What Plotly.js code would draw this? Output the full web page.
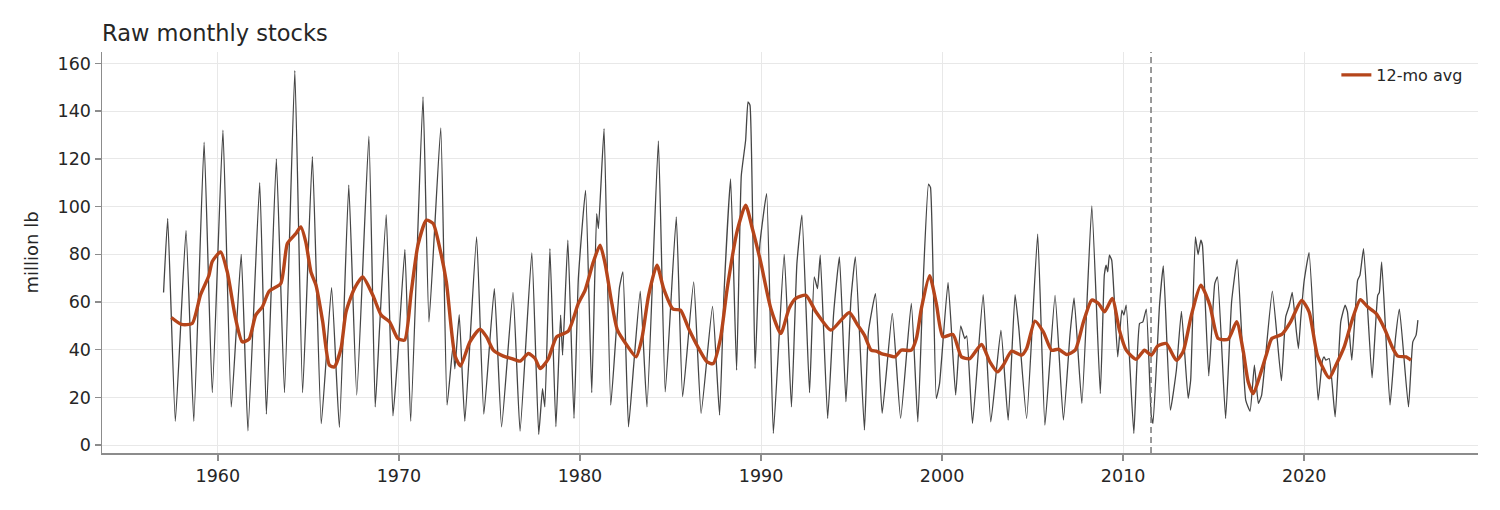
<!DOCTYPE html>
<html>
<head>
<meta charset="utf-8">
<script src="https://cdn.plot.ly/plotly-3.0.1.min.js"></script>
<style>
  html, body { margin: 0; padding: 0; background: #fff; }
  #chart { width: 1500px; height: 510px; }
</style>
</head>
<body>
<div id="chart"></div>
<script>
// raw monthly stocks (decimal year, million lb)
var rawYear = [
  1957.00, 1957.23, 1957.65, 1958.24, 1958.67, 1959.24, 1959.69, 1960.28, 1960.74, 1961.29,
  1961.66, 1962.31, 1962.68, 1963.23, 1963.68, 1964.25, 1964.68, 1965.22, 1965.71, 1966.28,
  1966.71, 1967.23, 1967.67, 1968.34, 1968.69, 1968.93, 1969.30, 1969.67, 1969.94, 1970.33,
  1970.65, 1971.33, 1971.66, 1972.31, 1972.66, 1972.99, 1973.09, 1973.33, 1973.64, 1974.29,
  1974.69, 1975.27, 1975.67, 1976.30, 1976.69, 1977.34, 1977.72, 1977.93, 1978.06, 1978.34,
  1978.67, 1978.93, 1979.04, 1979.33, 1979.67, 1979.91, 1980.31, 1980.65, 1980.92, 1981.02,
  1981.33, 1981.70, 1982.18, 1982.37, 1982.68, 1982.96, 1983.33, 1983.70, 1984.33, 1984.71,
  1985.32, 1985.67, 1986.28, 1986.69, 1987.32, 1987.71, 1987.95, 1988.32, 1988.65, 1988.91,
  1989.15, 1989.28, 1989.39, 1989.67, 1989.94, 1990.31, 1990.68, 1991.28, 1991.68, 1991.98,
  1992.26, 1992.68, 1992.94, 1993.12, 1993.27, 1993.68, 1994.01, 1994.33, 1994.69, 1994.97,
  1995.21, 1995.71, 1995.93, 1996.32, 1996.69, 1997.25, 1997.71, 1998.30, 1998.66, 1998.94,
  1999.25, 1999.36, 1999.68, 1999.86, 2000.33, 2000.75, 2001.03, 2001.25, 2001.36, 2001.68,
  2002.27, 2002.69, 2003.25, 2003.65, 2004.03, 2004.24, 2004.67, 2005.28, 2005.68, 2006.24,
  2006.70, 2007.07, 2007.29, 2007.72, 2008.27, 2008.74, 2008.96, 2009.06, 2009.15, 2009.24,
  2009.37, 2009.70, 2009.93, 2010.04, 2010.17, 2010.59, 2010.91, 2011.09, 2011.28, 2011.55,
  2011.65, 2012.01, 2012.22, 2012.61, 2012.94, 2013.22, 2013.59, 2013.73, 2013.99, 2014.14,
  2014.29, 2014.38, 2014.73, 2015.06, 2015.21, 2015.66, 2015.99, 2016.30, 2016.77, 2017.01,
  2017.25, 2017.47, 2017.65, 2018.24, 2018.74, 2018.98, 2019.16, 2019.34, 2019.57, 2019.68,
  2019.81, 2019.99, 2020.27, 2020.77, 2021.01, 2021.10, 2021.19, 2021.38, 2021.71, 2022.02,
  2022.26, 2022.39, 2022.63, 2022.95, 2023.08, 2023.28, 2023.75, 2024.06, 2024.15, 2024.28,
  2024.74, 2025.04, 2025.26, 2025.76, 2026.00, 2026.18, 2026.28
];
var rawStocks = [
  64, 95, 10, 90, 10, 127, 22, 132, 16, 80,
  6, 110, 13, 120, 22, 157, 22, 121, 9, 66,
  7.5, 109, 21, 129.5, 16, 49, 96.6, 12.3, 38, 82,
  10, 146, 51.7, 133, 16.8, 42, 32, 54.7, 10, 87.3,
  13, 65.6, 7.7, 64, 5.9, 80.6, 4.5, 23.7, 16, 82.4,
  7.7, 54.5, 37.7, 85.9, 11.2, 69.8, 106.8, 22, 97, 90.8,
  132.7, 16.8, 66, 72.6, 7.7, 32.8, 64.5, 16, 127.5, 22.3,
  95.7, 20.3, 68.4, 13.3, 58.2, 12.6, 62.8, 111.6, 31.4, 113,
  127.8, 143.9, 142.5, 32.1, 84.5, 105.4, 4.9, 80, 16, 76,
  96.4, 22, 70.5, 65.6, 79.6, 11.2, 55.2, 78.9, 18.2, 61.5,
  78.9, 6.3, 47.5, 63.5, 13.3, 55.2, 11.2, 59.4, 9.8, 65.6,
  109.4, 108, 19.6, 25.8, 68.2, 21, 50, 44.7, 45.8, 9.1,
  63.1, 9.8, 48.2, 10.5, 63.1, 48.9, 11.2, 88.4, 8.4, 62.8,
  10.5, 46.8, 61.7, 17.5, 100.3, 21.6, 71.2, 75.4, 72.6, 79.6,
  77.5, 37, 56.6, 54.5, 58.7, 4.9, 51, 51.7, 57, 12.6,
  9.1, 58.7, 75.1, 14.7, 31.4, 56.1, 19.6, 27.2, 87.3, 79.9,
  85.9, 83.8, 29, 67.7, 70.5, 11.2, 60, 77.9, 18.9, 14.2,
  33.5, 17.5, 21, 64.5, 27, 53.8, 58, 64, 47.5, 40.5,
  53, 68.4, 80.7, 18.9, 35.6, 37, 35.6, 36.3, 11.9, 51.7,
  58.7, 55.9, 35.6, 69.1, 71.2, 82.4, 28.2, 62.8, 64, 76.8,
  16.8, 44.7, 57, 16, 43.3, 46.1, 52.4
];

// 12-month average
var avgYear = [
  1957.43, 1957.99, 1958.58, 1959.04, 1959.50, 1959.69, 1960.15, 1960.52, 1960.98, 1961.35,
  1961.72, 1962.09, 1962.46, 1962.83, 1963.47, 1963.84, 1964.31, 1964.58, 1964.86, 1965.14,
  1965.42, 1965.79, 1966.16, 1966.43, 1966.80, 1967.08, 1967.54, 1968.00, 1968.56, 1969.02,
  1969.48, 1969.94, 1970.31, 1970.68, 1971.05, 1971.52, 1971.89, 1972.26, 1972.62, 1973.09,
  1973.40, 1973.92, 1974.47, 1974.84, 1975.21, 1975.77, 1976.23, 1976.69, 1977.15, 1977.52,
  1977.80, 1978.24, 1978.71, 1979.35, 1979.91, 1980.28, 1980.74, 1981.11, 1981.39, 1981.76,
  1982.07, 1982.59, 1983.10, 1983.42, 1983.79, 1984.25, 1984.62, 1985.14, 1985.55, 1986.00,
  1986.56, 1987.02, 1987.36, 1987.76, 1988.13, 1988.69, 1989.15, 1989.52, 1989.98, 1990.54,
  1991.09, 1991.55, 1991.92, 1992.48, 1993.03, 1993.86, 1994.42, 1994.88, 1995.34, 1995.71,
  1996.08, 1996.36, 1996.64, 1997.00, 1997.38, 1997.75, 1998.30, 1998.58, 1998.85, 1999.31,
  1999.68, 2000.05, 2000.60, 2001.07, 2001.53, 2002.18, 2002.64, 2003.06, 2003.38, 2003.84,
  2004.39, 2004.67, 2005.13, 2005.59, 2006.05, 2006.42, 2006.88, 2007.35, 2007.81, 2008.27,
  2008.64, 2008.97, 2009.40, 2009.80, 2010.17, 2010.72, 2011.18, 2011.55, 2011.92, 2012.38,
  2012.94, 2013.31, 2013.77, 2014.29, 2014.79, 2015.25, 2015.80, 2016.27, 2016.64, 2016.91,
  2017.19, 2017.56, 2017.93, 2018.21, 2018.76, 2019.25, 2019.86, 2020.27, 2020.73, 2021.38,
  2021.75, 2022.21, 2022.67, 2023.10, 2023.50, 2023.97, 2024.43, 2024.90, 2025.17, 2025.63,
  2025.90
];
var avgStocks = [
  53.5, 50.6, 51, 63, 71, 77, 81, 72.6, 53, 43.3,
  44.4, 54.5, 58, 64.5, 67.7, 84.5, 88.7, 91.5, 85, 72.6,
  67, 51.7, 33.5, 32.8, 40.5, 55.9, 65.6, 70.5, 62.8, 54.5,
  51.7, 44.7, 44, 64.2, 83.8, 94.3, 92.9, 82.4, 68.4, 37.7,
  33.2, 43.3, 48.6, 45.4, 39.8, 37.3, 36.3, 35.2, 38.4, 36.3,
  32.1, 36, 45.4, 47.8, 59.4, 64.9, 76.8, 83.8, 76, 59.4,
  48.2, 41.9, 37, 44.7, 62.8, 75.4, 65.6, 57, 56.6, 48.9,
  40.5, 34.9, 34.2, 44.7, 65.6, 90, 100.6, 90.8, 76.8, 57.3,
  46.8, 57.3, 61.5, 62.8, 55.9, 48.2, 52.4, 55.6, 50.3, 46.1,
  39.8, 39.4, 38.4, 37.7, 37, 39.8, 39.8, 44.7, 57, 71,
  59.4, 45.4, 46.4, 37, 36.3, 42.2, 34.9, 30.7, 33.5, 39.4,
  37.7, 40.5, 52, 47.5, 39.8, 40.2, 38, 39.8, 51.7, 60.8,
  59.4, 55.9, 61.5, 48, 39.8, 36, 39.8, 37.7, 41.6, 42.6,
  35.6, 39.1, 54.5, 67, 58.7, 44.7, 44.4, 51.7, 39.1, 26.5,
  21.6, 29.3, 38.4, 44.7, 46.4, 51.7, 60.6, 55.9, 37.7, 28.2,
  33.5, 41.2, 53, 61, 58, 55.2, 48.9, 40.5, 37.3, 37,
  35.6
];

var xTicks = [1960, 1970, 1980, 1990, 2000, 2010, 2020];
var yTicks = [0, 20, 40, 60, 80, 100, 120, 140, 160];
var markerYear = 2011.54;

var font = 'DejaVu Sans, Liberation Sans, sans-serif';

var raw = {
  x: rawYear,
  y: rawStocks,
  type: 'scatter',
  mode: 'lines',
  name: 'Raw',
  showlegend: false,
  line: { color: '#454545', width: 1.3, shape: 'spline', smoothing: 0.4 },
  hoverinfo: 'skip'
};

var avg = {
  x: avgYear,
  y: avgStocks,
  type: 'scatter',
  mode: 'lines',
  name: '12-mo avg',
  line: { color: '#b5451b', width: 3.4, shape: 'spline', smoothing: 0.6 }
};

var axisStyle = {
  showgrid: true,
  gridcolor: '#e8e8e8',
  gridwidth: 1,
  zeroline: false,
  showline: true,
  linecolor: '#8c8c8c',
  linewidth: 1.5,
  ticks: 'outside',
  ticklen: 6,
  tickwidth: 1.5,
  tickcolor: '#8c8c8c',
  tickfont: { family: font, size: 17.5, color: '#262626' }
};

var layout = {
  width: 1500,
  height: 510,
  paper_bgcolor: '#ffffff',
  plot_bgcolor: '#ffffff',
  margin: { l: 102, r: 22, t: 52, b: 57 },
  font: { family: font, color: '#262626' },
  title: {
    text: 'Raw monthly stocks',
    font: { family: font, size: 22.5, color: '#262626' },
    xref: 'paper', x: 0, xanchor: 'left',
    yref: 'container', y: 1 - 33 / 510, yanchor: 'middle'
  },
  xaxis: Object.assign({}, axisStyle, {
    range: [1953.6, 2029.6],
    tickvals: xTicks,
    ticktext: xTicks.map(String)
  }),
  yaxis: Object.assign({}, axisStyle, {
    range: [-3.3, 164.8],
    tickvals: yTicks,
    title: { text: 'million lb', font: { family: font, size: 18, color: '#262626' }, standoff: 14 }
  }),
  showlegend: true,
  legend: {
    x: 0.993, xanchor: 'right',
    y: 0.985, yanchor: 'top',
    bgcolor: 'rgba(0,0,0,0)',
    font: { family: font, size: 16, color: '#262626' }
  },
  shapes: [{
    type: 'line',
    xref: 'x', yref: 'paper',
    x0: markerYear, x1: markerYear, y0: 0, y1: 1,
    line: { color: '#808080', width: 1.6, dash: '6px,4px' }
  }]
};

Plotly.newPlot('chart', [raw, avg], layout, { displayModeBar: false, staticPlot: true });
</script>
</body>
</html>
